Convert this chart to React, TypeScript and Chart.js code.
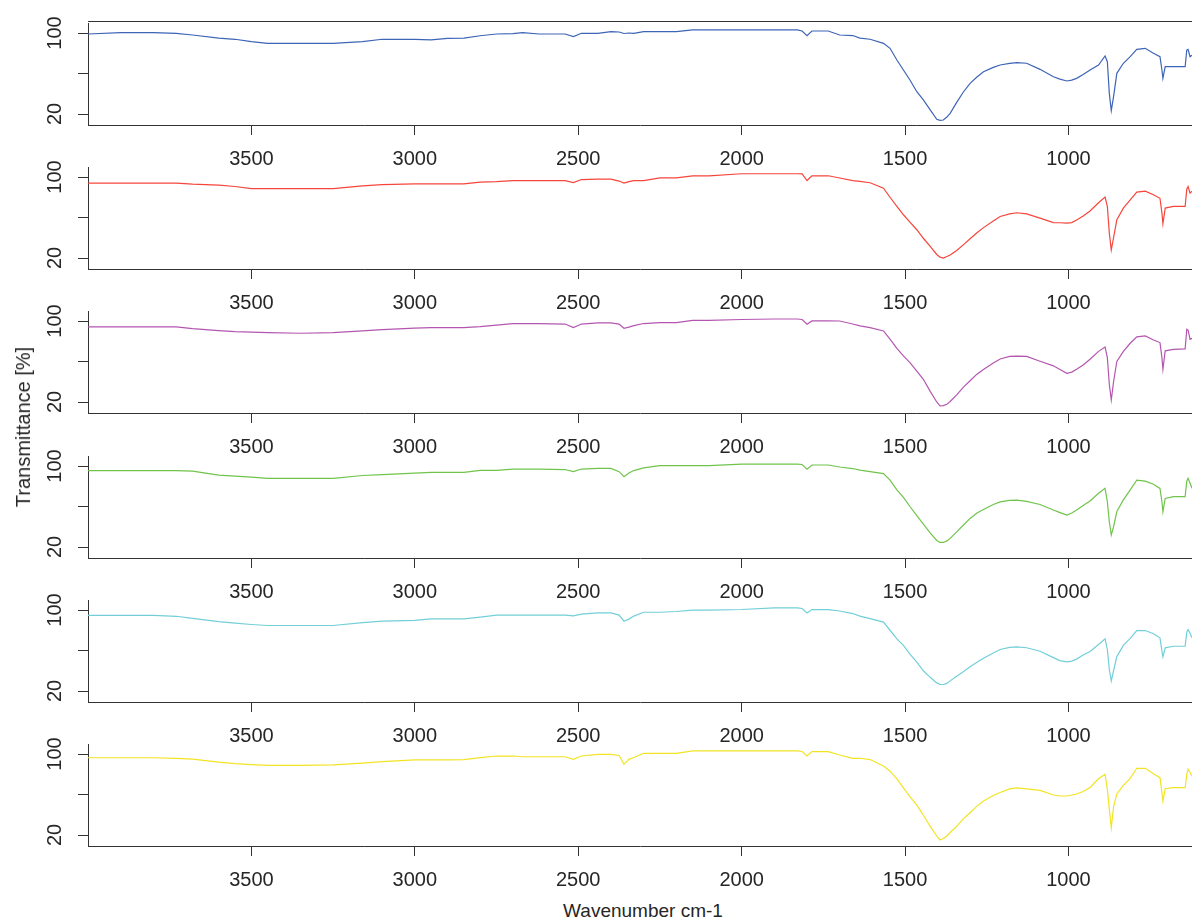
import React, { useEffect, useRef } from "react";
import { Chart, registerables } from "chart.js";

Chart.register(...registerables);

// Wavenumber grid (cm-1), shared by all six spectra
const wavenumbers = [
  4000, 3900, 3800, 3730, 3680, 3600, 3550, 3500, 3450, 3350, 3250, 3160, 3100, 3000, 2950,
  2900, 2850, 2800, 2750, 2700, 2670, 2620, 2540, 2515, 2490, 2440, 2400, 2375, 2360, 2345,
  2330, 2300, 2250, 2200, 2150, 2100, 2000, 1900, 1830, 1815, 1800, 1785, 1735, 1700, 1660,
  1638, 1607, 1566, 1546, 1525, 1505, 1485, 1464, 1444, 1423, 1403, 1393, 1383, 1372, 1362,
  1342, 1322, 1301, 1280, 1260, 1230, 1209, 1180, 1158, 1128, 1087, 1046, 1026, 1005, 990,
  975, 955, 934, 908, 888, 881, 875, 869, 862, 852, 832, 811, 791, 765, 740,
  720, 714, 711, 704, 679, 643, 638, 634, 628, 622,
];

// Transmittance [%] of each sample
const sampleBlue = [
  99.0, 100.3, 100.3, 99.7, 98, 95, 93.8, 91.4, 89.8, 89.8, 89.8, 91.4, 93.8, 93.8, 93.2,
  94.7, 95, 97.3, 99, 99.3, 100.3, 99, 99, 96.4, 99.7, 99.7, 101.3, 101, 99.5, 100,
  99.7, 101.3, 101.3, 101.3, 103, 103, 103, 103, 103, 102, 97.3, 102, 102, 98, 97.5,
  95, 93.8, 89.8, 84.9, 73.3, 63.5, 53.6, 42, 34, 24, 14.8, 13.8, 14.1, 17, 20.7,
  31.5, 41.5, 50.3, 56.5, 61.8, 66, 68.4, 70, 70.7, 70.1, 64.1, 56.8, 54.5, 52.6, 53.5,
  55.2, 59, 63.5, 68.4, 77.3, 71.7, 40.4, 23.3, 37.1, 60.2, 70.1, 76.6, 83.9, 84.9, 80,
  76.6, 63.5, 55.2, 66.7, 66.7, 66.7, 83.2, 83.9, 76.6, 78,
];
const sampleRed = [
  94, 94, 94, 94, 93, 92, 90.6, 88.6, 88.6, 88.6, 88.6, 91.2, 92.5, 93.3, 93.3,
  93.3, 93.3, 95, 95.5, 96.5, 96.5, 96.5, 96.5, 94.5, 97.5, 97.9, 97.9, 96, 94, 95.5,
  96.5, 96.5, 99.2, 99.2, 101.2, 101.2, 103.2, 103.2, 103.2, 103, 96.5, 101.2, 101.2, 99, 96.5,
  95.6, 94.3, 89, 80, 71, 62.7, 55.5, 47.9, 39.5, 31.4, 23.5, 20.8, 19.9, 21.5, 23,
  27.5, 33, 39, 45, 50, 56.5, 61, 63.5, 64.7, 63.5, 59.4, 55, 54.8, 54.5, 55,
  57.5, 61.5, 66.5, 74.5, 80.1, 70.9, 44.6, 28, 40, 57.7, 69.3, 77.5, 85, 86, 82.5,
  79, 64.3, 53.8, 69.3, 70.9, 70.9, 88, 90.6, 84, 86,
];
const samplePurple = [
  94.2, 94.2, 94.2, 94.2, 92.5, 90.5, 89.5, 89, 88.5, 87.9, 88.5, 90.2, 91.5, 93, 93.5,
  93.5, 93.5, 94.5, 96, 97.4, 97.4, 97.4, 97, 93.5, 97, 98.1, 98.1, 97, 92.8, 94,
  95.5, 97.5, 98.4, 98.4, 100.7, 100.7, 101.5, 102, 102, 101.5, 96.8, 100.1, 100.1, 100, 97,
  95.2, 93.5, 90.2, 82, 73, 65.5, 58.9, 50.5, 42.4, 30.5, 20, 16.1, 16.5, 17.7, 20.5,
  27, 34.5, 41, 47.5, 52, 58.5, 62.5, 65, 65.3, 65, 60.3, 55.7, 52, 48.3, 49.5,
  52.3, 56.5, 62.2, 70, 74.4, 63.8, 37.5, 22, 40, 60, 70, 78, 84.3, 85.2, 81.3,
  78.7, 63.8, 52.3, 70.5, 72, 72.5, 91.8, 91, 81.9, 83,
];
const sampleGreen = [
  95.4, 95.4, 95.4, 95.4, 95, 91, 90, 89, 87.8, 87.8, 87.8, 90.6, 91.5, 92.9, 93.7,
  93.7, 93.7, 95.7, 95.7, 96.9, 96.9, 96.9, 96.5, 94.4, 97, 97.6, 97.6, 94.4, 89.4, 93,
  95.5, 98.2, 100.3, 100.3, 100.3, 100.3, 101.9, 101.9, 101.9, 101.5, 96.9, 101, 101, 99, 97.5,
  96, 94.5, 92.5, 86, 76.5, 69, 60, 51, 42.5, 34, 26.5, 24.5, 24.5, 26, 28.5,
  35, 41.5, 48.2, 53.5, 57, 62, 64.5, 66, 66.3, 65, 62, 56.5, 54, 51.5, 53.5,
  56.5, 61, 65.5, 73, 77.9, 64.7, 44.9, 32, 40, 55, 66.5, 76.5, 86.1, 85, 82,
  77.9, 64.7, 54.9, 68, 69.7, 69.7, 85, 87.8, 83, 78,
];
const sampleCyan = [
  94.6, 94.6, 94.6, 93.8, 91.8, 88.5, 87, 85.7, 84.7, 84.7, 84.7, 87.5, 89, 89.8, 91.2,
  91.2, 91.2, 93, 94.9, 94.9, 94.9, 94.9, 94.9, 94.2, 96, 97.1, 97.1, 95, 88.9, 91,
  94, 97.8, 97.8, 98.5, 99.8, 99.8, 100.5, 102.1, 102.1, 101.5, 97.1, 100.4, 100.4, 99, 96.5,
  93.9, 91.5, 88, 80, 71.5, 65, 56.5, 48.5, 40, 33.5, 28, 26.4, 26.4, 27.5, 30,
  34.6, 39, 44, 48.4, 52.4, 57.6, 61, 63, 63.5, 62.7, 59.3, 53, 50, 48.7, 49.5,
  51.5, 55.5, 59, 66, 71.5, 61, 41.2, 30, 40, 54, 65, 72, 79.7, 79.7, 76.5,
  72.5, 59.3, 53.7, 62.6, 64.2, 64.2, 78, 80.7, 77, 72.5,
];
const sampleYellow = [
  96.3, 96.3, 96.3, 95.6, 95, 92, 90.5, 89.5, 88.8, 88.8, 89.3, 91, 92.5, 94.1, 94.1,
  94.1, 94.5, 96.5, 98, 98, 97.3, 97.3, 97.3, 94.7, 98, 99.7, 99.7, 98.5, 89.8, 94.7,
  96.5, 100.7, 100.7, 100.7, 103, 103, 103, 103, 103, 102.5, 98, 102.3, 102.3, 99, 95.6,
  95.8, 94.5, 88.1, 83, 75.5, 66.5, 57.8, 49.5, 39.5, 28.5, 19, 15.1, 16.5, 19, 22.5,
  28.5, 36, 42, 48.5, 53.5, 59, 62, 65.5, 66.5, 65.5, 64.1, 59.5, 58.5, 58.5, 59.5,
  60.5, 63, 67, 75.5, 80, 65.1, 45.4, 27, 48, 60.5, 69, 76, 85.9, 85.9, 80.5,
  76.6, 61.8, 53.6, 65.7, 66.7, 66.7, 80, 84.9, 82, 78,
];

const xTicks = [3500, 3000, 2500, 2000, 1500, 1000];
const yTicks = [20, 60, 100];
const yTickLabels = ["20", "", "100"];

const seriesList = [sampleBlue, sampleRed, samplePurple, sampleGreen, sampleCyan, sampleYellow];
const seriesColors = ["#3d64b6", "#f6463c", "#b456b0", "#70c44c", "#72cfd8", "#f2e424"];

const FONT = '"Liberation Sans", Arial, Helvetica, sans-serif';
const TEXT = "#262626";
const AXIS = "#333333";

const W = 1192;
const PANEL_BOTTOMS = [125, 269, 413, 558, 702, 846];
const PAD_TOP = 8;
const AREA_H = 102;
const XAXIS_H = 42;
const Y_LEFT = 88;
// y scale chosen so that 20 sits 11px and 100 sits 92px above the axis
const Y_MIN = 20 - 11 / 1.0125;
const Y_MAX = 20 + (AREA_H - 11) / 1.0125;

function Panel({ values, color, index }: { values: number[]; color: string; index: number }) {
  const ref = useRef<HTMLCanvasElement | null>(null);

  useEffect(() => {
    if (!ref.current) return;
    const labelPlugin = {
      id: "yTickText",
      afterDraw(chart: any) {
        const ctx = chart.ctx;
        const ys = chart.scales.y;
        ctx.save();
        ctx.font = `20px ${FONT}`;
        ctx.fillStyle = TEXT;
        ctx.textAlign = "center";
        ctx.textBaseline = "middle";
        yTicks.forEach((v, k) => {
          const lab = yTickLabels[k];
          if (!lab) return;
          const py = ys.getPixelForValue(v);
          ctx.save();
          ctx.translate(55, py);
          ctx.rotate(-Math.PI / 2);
          ctx.fillText(lab, 0, 0);
          ctx.restore();
        });
        if (index === 0) {
          const a = chart.chartArea;
          ctx.strokeStyle = AXIS;
          ctx.lineWidth = 1;
          ctx.beginPath();
          ctx.moveTo(a.left, Math.round(a.top - 2) + 0.5);
          ctx.lineTo(a.right, Math.round(a.top - 2) + 0.5);
          ctx.stroke();
        }
        ctx.restore();
      },
    };

    const chart = new Chart(ref.current, {
      type: "line",
      data: {
        datasets: [
          {
            data: wavenumbers.map((w, j) => ({ x: w, y: values[j] })),
            borderColor: color,
            borderWidth: 1.2,
            pointRadius: 0,
            tension: 0,
            fill: false,
          },
        ],
      },
      options: {
        animation: false,
        responsive: false,
        maintainAspectRatio: false,
        events: [],
        layout: { padding: { top: PAD_TOP, left: 0, right: 0, bottom: 0 } },
        plugins: { legend: { display: false }, tooltip: { enabled: false }, title: { display: false } },
        scales: {
          x: {
            type: "linear",
            reverse: true,
            min: 622,
            max: 4000,
            afterBuildTicks: (s: any) => {
              s.ticks = xTicks.map((v) => ({ value: v }));
            },
            afterFit: (s: any) => {
              s.height = XAXIS_H;
            },
            grid: { display: true, drawOnChartArea: false, drawTicks: true, tickLength: 10, color: AXIS, lineWidth: 1 },
            border: { display: true, color: AXIS, width: 1 },
            ticks: {
              autoSkip: false,
              maxRotation: 0,
              minRotation: 0,
              padding: 12,
              color: TEXT,
              font: { family: FONT, size: 20, lineHeight: 1.2 },
              callback: (v: any) => String(v),
            },
          },
          y: {
            type: "linear",
            min: Y_MIN,
            max: Y_MAX,
            afterBuildTicks: (s: any) => {
              s.ticks = yTicks.map((v) => ({ value: v }));
            },
            afterFit: (s: any) => {
              s.width = Y_LEFT;
            },
            grid: { display: true, drawOnChartArea: false, drawTicks: true, tickLength: 10, color: AXIS, lineWidth: 1 },
            border: { display: true, color: AXIS, width: 1 },
            ticks: { display: false },
          },
        },
      },
      plugins: [labelPlugin],
    } as any);
    return () => chart.destroy();
  }, [values, color, index]);

  const yb = PANEL_BOTTOMS[index];
  const h = PAD_TOP + AREA_H + XAXIS_H;
  return (
    <canvas
      ref={ref}
      width={W}
      height={h}
      style={{ position: "absolute", left: 0, top: yb - AREA_H - PAD_TOP, width: W, height: h, display: "block" }}
    />
  );
}

export default function App() {
  return (
    <div
      style={{
        position: "absolute",
        left: 0,
        top: 0,
        width: W,
        height: 921,
        background: "#ffffff",
        overflow: "hidden",
        fontFamily: FONT,
      }}
    >
      {seriesList.map((vals, i) => (
        <Panel key={i} values={vals} color={seriesColors[i]} index={i} />
      ))}
      <div
        style={{
          position: "absolute",
          left: 23,
          top: 427,
          transform: "translate(-50%, -50%) rotate(-90deg)",
          whiteSpace: "nowrap",
          fontSize: 20,
          lineHeight: 1,
          color: TEXT,
        }}
      >
        Transmittance [%]
      </div>
      <div
        style={{
          position: "absolute",
          left: 643,
          top: 910,
          transform: "translate(-50%, -50%)",
          whiteSpace: "nowrap",
          fontSize: 19,
          lineHeight: 1,
          color: TEXT,
        }}
      >
        Wavenumber cm-1
      </div>
    </div>
  );
}
